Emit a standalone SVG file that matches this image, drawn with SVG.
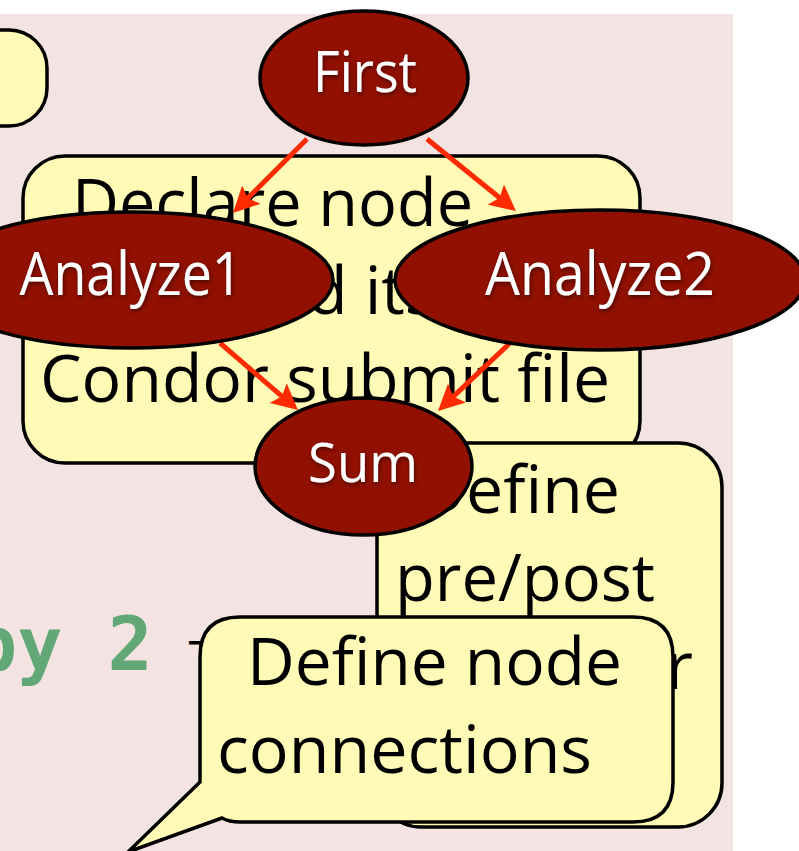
<svg xmlns="http://www.w3.org/2000/svg" width="799" height="851" viewBox="0 0 799 851">
  <style>
    .note { fill: #fffab6; stroke: #000; stroke-width: 3.5; }
    .node { fill: #911000; stroke: #000; stroke-width: 3.5; }
    .ntext { font-family: "Open Sans", "Noto Sans", sans-serif; font-size: 66px; fill: #000; }
    .label { font-family: "Open Sans", "Noto Sans", sans-serif; fill: #fff; filter: url(#shadow); }
    .code { font-family: "DejaVu Sans Mono", "Liberation Mono", monospace; font-weight: bold; font-size: 75px; fill: #62a876; }
    .edge { stroke: #ff2a00; stroke-width: 5; fill: none; marker-end: url(#arrow); }
  </style>
  <defs>
    <marker id="arrow" viewBox="0 0 26 26" refX="8" refY="13" markerWidth="26" markerHeight="26" markerUnits="userSpaceOnUse" orient="auto">
      <path d="M0,0 L26,13 L0,26 L5,13 Z" fill="#ff2a00"/>
    </marker>
    <filter id="shadow" x="-10%" y="-10%" width="120%" height="130%">
      <feDropShadow dx="1" dy="2" stdDeviation="2" flood-color="#000" flood-opacity="0.5"/>
    </filter>
  </defs>

  <!-- slide background -->
  <rect x="0" y="0" width="799" height="851" fill="#ffffff"/>
  <rect x="0" y="14" width="733" height="837" fill="#f4e3e3"/>

  <!-- callout at top left, mostly off the slide -->
  <g id="note-topleft">
    <rect class="note" x="-200" y="30" width="247" height="96" rx="38"/>
  </g>

  <!-- code fragment behind the callouts -->
  <g id="code-text">
    <text class="code" x="-28" y="670">by 2</text>
    <text x="188" y="672" font-family="Liberation Sans, sans-serif" font-size="44" fill="#000">T</text>
  </g>

  <!-- callout: declare node -->
  <g id="note-declare">
    <rect class="note" x="23" y="156" width="617" height="307" rx="42"/>
    <text class="ntext" x="72" y="226" textLength="401" lengthAdjust="spacingAndGlyphs">Declare node</text>
    <text class="ntext" x="230" y="314">and its</text>
    <text class="ntext" x="40" y="402" textLength="570" lengthAdjust="spacingAndGlyphs">Condor submit file</text>
  </g>

  <!-- callout: pre/post scripts -->
  <g id="note-prepost">
    <rect class="note" x="377" y="443" width="345" height="384" rx="44"/>
    <text class="ntext" x="418" y="513" textLength="202" lengthAdjust="spacingAndGlyphs">Define</text>
    <text class="ntext" x="395" y="601" textLength="260" lengthAdjust="spacingAndGlyphs">pre/post</text>
    <text class="ntext" x="693" y="689" text-anchor="end">scripts for</text>
  </g>

  <!-- callout: node connections, with tail -->
  <g id="note-connections">
    <path class="note" d="M240,617 H633 Q673,617 673,657 V782 Q673,822 633,822 H240 Q229,822 222,818 L128,852 L200,782 V657 Q200,617 240,617 Z"/>
    <text class="ntext" x="247" y="685" textLength="375" lengthAdjust="spacingAndGlyphs">Define node</text>
    <text class="ntext" x="217" y="773" textLength="375" lengthAdjust="spacingAndGlyphs">connections</text>
  </g>

  <!-- dependency edges -->
  <g id="edges">
    <line class="edge" x1="307" y1="139" x2="245.7" y2="200.3"/>
    <line class="edge" x1="427" y1="139" x2="502" y2="199.7"/>
    <line class="edge" x1="220" y1="343" x2="284.3" y2="398.3"/>
    <line class="edge" x1="510" y1="343" x2="451.1" y2="398.6"/>
  </g>

  <!-- DAG nodes -->
  <g id="node-first">
    <ellipse class="node" cx="364" cy="78" rx="104" ry="67"/>
    <text class="label" x="365" y="92" font-size="56" text-anchor="middle" textLength="104" lengthAdjust="spacingAndGlyphs">First</text>
  </g>
  <g id="node-analyze1">
    <ellipse class="node" cx="131" cy="280" rx="202" ry="68"/>
    <text class="label" x="131" y="295" font-size="60" text-anchor="middle" textLength="223" lengthAdjust="spacingAndGlyphs">Analyze1</text>
  </g>
  <g id="node-analyze2">
    <ellipse class="node" cx="600" cy="280" rx="205" ry="70"/>
    <text class="label" x="600" y="295" font-size="60" text-anchor="middle" textLength="230" lengthAdjust="spacingAndGlyphs">Analyze2</text>
  </g>
  <g id="node-sum">
    <ellipse class="node" cx="363.5" cy="466.5" rx="108.5" ry="68.5"/>
    <text class="label" x="363" y="482" font-size="55" text-anchor="middle" textLength="110" lengthAdjust="spacingAndGlyphs">Sum</text>
  </g>
</svg>
